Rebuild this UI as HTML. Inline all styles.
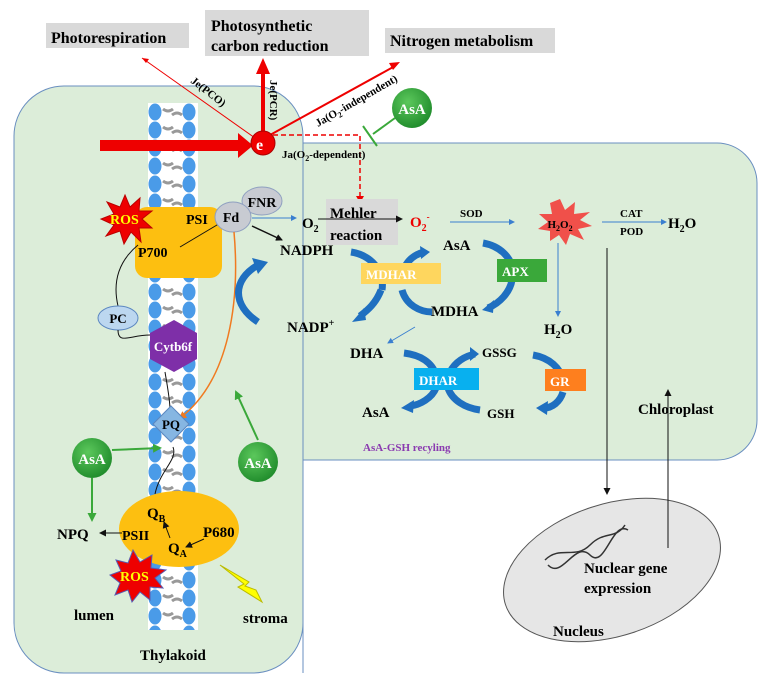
<!DOCTYPE html>
<html><head><meta charset="utf-8"><style>
html,body{margin:0;padding:0;background:#fff;}
svg{display:block;font-family:"Liberation Serif",serif;font-weight:bold;}
</style></head><body>
<svg width="767" height="683" viewBox="0 0 767 683" xmlns="http://www.w3.org/2000/svg">
<defs>
<marker id="ar" markerWidth="8" markerHeight="8" refX="6" refY="4" orient="auto" markerUnits="userSpaceOnUse"><path d="M0,0 L8,4 L0,8z" fill="#e00"/></marker>
<marker id="ab" markerWidth="6" markerHeight="6" refX="5" refY="3" orient="auto" markerUnits="userSpaceOnUse"><path d="M0,0 L6,3 L0,6z" fill="#3a7fd0"/></marker>
<marker id="ak" markerWidth="7" markerHeight="7" refX="6" refY="3.5" orient="auto" markerUnits="userSpaceOnUse"><path d="M0,0 L7,3.5 L0,7z" fill="#111"/></marker>
<marker id="ag" markerWidth="9" markerHeight="9" refX="7" refY="4.5" orient="auto" markerUnits="userSpaceOnUse"><path d="M0,0 L9,4.5 L0,9z" fill="#3aa83a"/></marker>
<marker id="ao" markerWidth="8" markerHeight="8" refX="6" refY="4" orient="auto" markerUnits="userSpaceOnUse"><path d="M0,0 L8,4 L0,8z" fill="#f07a20"/></marker>
<pattern id="mem" x="148" y="103" width="50" height="18" patternUnits="userSpaceOnUse">
<rect width="50" height="18" fill="#fff"/>
<ellipse cx="7" cy="9" rx="6.5" ry="8.5" fill="#4a9be8"/>
<ellipse cx="41" cy="9" rx="6.5" ry="8.5" fill="#4a9be8"/>
<path d="M15,6 q5,4 10,0 M24,12 q5,-4 10,0" stroke="#999" stroke-width="3" fill="none"/>
</pattern>
<radialGradient id="gg" cx="0.4" cy="0.35" r="0.7"><stop offset="0" stop-color="#5cc85c"/><stop offset="1" stop-color="#1e8a2a"/></radialGradient>
</defs>

<!-- containers -->
<path d="M64,86 H253 A50,50 0 0 1 303,136 V623 A50,50 0 0 1 253,673 H64 A50,50 0 0 1 14,623 V136 A50,50 0 0 1 64,86 Z" fill="#dcedd9" stroke="#6a8fc0" stroke-width="1"/>
<path d="M303,143 H717 A40,40 0 0 1 757,183 V420 A40,40 0 0 1 717,460 H303 Z" fill="#dcedd9" stroke="#6a8fc0" stroke-width="1"/>
<line x1="303" y1="143" x2="303" y2="673" stroke="#6a8fc0" stroke-width="1"/>

<!-- membrane -->
<rect x="148" y="103" width="50" height="527" fill="url(#mem)"/>

<!-- top labels -->
<rect x="46" y="23" width="143" height="25" fill="#d9d9d9"/>
<text x="51" y="43" font-size="16">Photorespiration</text>
<rect x="205" y="10" width="164" height="46" fill="#d9d9d9"/>
<text x="211" y="31" font-size="16">Photosynthetic</text>
<text x="211" y="51" font-size="16">carbon reduction</text>
<rect x="385" y="28" width="170" height="25" fill="#d9d9d9"/>
<text x="390" y="46" font-size="16">Nitrogen metabolism</text>

<!-- red arrows -->
<line x1="255" y1="138" x2="142" y2="58" stroke="#e00" stroke-width="1"/>
<path d="M142,58 l7,1 l-3,4z" fill="#e00"/>
<line x1="263" y1="132" x2="263" y2="72" stroke="#e00" stroke-width="4"/>
<path d="M256,74 L263,58 L270,74z" fill="#e00"/>
<line x1="270" y1="135" x2="395" y2="66" stroke="#e00" stroke-width="2"/>
<path d="M400,62 l-11,1 l4,7z" fill="#e00"/>
<rect x="100" y="140" width="140" height="11" fill="#e00"/>
<path d="M238,133 L253,145.5 L238,158z" fill="#e00"/>
<circle cx="263" cy="143" r="12" fill="#e00" stroke="#a00"/>
<text x="256" y="150" font-size="16" fill="#fff">e</text>
<path d="M273,135 H360 V198" stroke="#e00" stroke-width="1.5" stroke-dasharray="5,3" fill="none"/>
<path d="M356,196 L360,203 L364,196z" fill="#e00"/>
<text font-size="11" transform="translate(190,82) rotate(38)">Je(PCO)</text>
<text font-size="11" transform="translate(270,80) rotate(90)">Je(PCR)</text>
<text font-size="11" transform="translate(318,127) rotate(-30)">Ja(O<tspan font-size="8" dy="3">2</tspan><tspan dy="-3">-independent)</tspan></text>
<text x="282" y="158" font-size="11">Ja(O<tspan font-size="8" dy="3">2</tspan><tspan dy="-3">-dependent)</tspan></text>

<!-- AsA inhibitor -->
<line x1="395" y1="118" x2="373" y2="134" stroke="#3aa83a" stroke-width="2"/>
<line x1="363" y1="126" x2="377" y2="146" stroke="#3aa83a" stroke-width="2"/>
<circle cx="412" cy="108" r="20" fill="url(#gg)"/>
<text x="412" y="114" font-size="15" fill="#fff" text-anchor="middle">AsA</text>

<!-- PSI -->
<rect x="135" y="207" width="87" height="71" rx="12" fill="#fdbf10"/>
<polygon points="125,195 130,207 140,198 139,211 152,211 142,219 152,228 139,228 141,242 131,232 124,244 120,231 106,236 114,225 101,219 114,214 107,202 120,207" fill="#e00" stroke="#b00"/>
<text x="110" y="224" font-size="14" fill="#ff0">ROS</text>
<text x="186" y="224" font-size="14">PSI</text>
<text x="138" y="257" font-size="14">P700</text>
<line x1="180" y1="247" x2="222" y2="222" stroke="#111"/>
<ellipse cx="262" cy="201" rx="20" ry="14" fill="#c8cbd2" stroke="#8fa0c0"/>
<text x="262" y="207" font-size="14" text-anchor="middle">FNR</text>
<ellipse cx="233" cy="217" rx="18" ry="15" fill="#c8cbd2" stroke="#8fa0c0"/>
<text x="231" y="222" font-size="14" text-anchor="middle">Fd</text>
<line x1="252" y1="218" x2="296" y2="218" stroke="#3a7fd0" marker-end="url(#ab)"/>
<line x1="252" y1="226" x2="282" y2="240" stroke="#111" stroke-width="1.5" marker-end="url(#ak)"/>
<path d="M234,232 C240,300 230,380 180,418" stroke="#f07a20" stroke-width="1.5" fill="none" marker-end="url(#ao)"/>

<!-- Mehler -->
<text x="302" y="228" font-size="15">O<tspan font-size="10" dy="4">2</tspan></text>
<rect x="326" y="199" width="72" height="46" fill="#d9d9d9"/>
<text x="330" y="218" font-size="15">Mehler</text>
<text x="330" y="240" font-size="15">reaction</text>
<line x1="318" y1="219" x2="402" y2="219" stroke="#111" marker-end="url(#ak)"/>
<text x="410" y="227" font-size="15" fill="#e00">O<tspan font-size="10" dy="4">2</tspan><tspan font-size="9" dy="-11">-</tspan></text>
<text x="460" y="217" font-size="11">SOD</text>
<line x1="450" y1="222" x2="514" y2="222" stroke="#3a7fd0" marker-end="url(#ab)"/>
<polygon points="560,199 565,210 575,202 574,214 590,212 580,220 592,226 578,229 584,240 570,234 566,245 559,235 550,241 550,231 538,229 548,222 539,214 552,214 550,203" fill="#f0504a"/>
<text x="560" y="228" font-size="11" text-anchor="middle">H<tspan font-size="8" dy="3">2</tspan><tspan dy="-3">O</tspan><tspan font-size="8" dy="3">2</tspan></text>
<text x="620" y="217" font-size="11">CAT</text>
<text x="620" y="235" font-size="11">POD</text>
<line x1="602" y1="222" x2="666" y2="222" stroke="#3a7fd0" marker-end="url(#ab)"/>
<text x="668" y="228" font-size="15">H<tspan font-size="10" dy="4">2</tspan><tspan dy="-4">O</tspan></text>
<line x1="558" y1="243" x2="558" y2="316" stroke="#3a7fd0" marker-end="url(#ab)"/>
<text x="544" y="334" font-size="15">H<tspan font-size="10" dy="4">2</tspan><tspan dy="-4">O</tspan></text>

<!-- NADPH cycle -->
<text x="280" y="255" font-size="15">NADPH</text>
<text x="287" y="332" font-size="15">NADP<tspan font-size="10" dy="-6">+</tspan></text>
<path d="M258,265 C232,280 232,305 258,322" stroke="#1f6fc0" stroke-width="7" fill="none"/>
<path d="M252,258 L268,262 L258,274z" fill="#1f6fc0"/>

<!-- AsA-GSH -->
<g stroke="#1f6fc0" stroke-width="7" fill="none">
<path d="M351,252 C370,255 385,270 382,290"/>
<path d="M381,290 C376,303 368,310 360,316"/>
<path d="M402,290 C406,305 420,312 432,312"/>
<path d="M402,275 C405,262 413,255 424,252"/>
<path d="M483,243 C500,246 512,258 512,270"/>
<path d="M512,280 C510,292 500,303 488,308"/>
<path d="M404,353 C420,355 432,362 436,375"/>
<path d="M436,388 C432,398 420,405 410,406"/>
<path d="M448,388 C452,400 465,408 480,410"/>
<path d="M450,372 C455,362 465,356 475,354"/>
<path d="M533,355 C550,358 560,368 563,380"/>
<path d="M563,392 C560,402 552,408 544,408"/>
</g>
<g fill="#1f6fc0">
<path d="M352,322 L364,308 L366,320z"/>
<path d="M430,252 L420,246 L421,259z"/>
<path d="M482,310 L494,300 L493,313z"/>
<path d="M401,408 L414,400 L413,413z"/>
<path d="M479,354 L470,347 L470,361z"/>
<path d="M536,408 L548,401 L547,415z"/>
</g>
<rect x="361" y="263" width="80" height="21" fill="#fed65e"/>
<text x="366" y="279" font-size="13" fill="#fff">MDHAR</text>
<text x="443" y="250" font-size="15">AsA</text>
<rect x="497" y="259" width="50" height="23" fill="#3aa83a"/>
<text x="502" y="276" font-size="13" fill="#fff">APX</text>
<text x="431" y="316" font-size="15">MDHA</text>
<line x1="415" y1="327" x2="388" y2="343" stroke="#3a7fd0" marker-end="url(#ab)"/>
<text x="350" y="358" font-size="15">DHA</text>
<text x="482" y="357" font-size="13">GSSG</text>
<rect x="414" y="368" width="65" height="22" fill="#08b0ef"/>
<text x="419" y="385" font-size="13" fill="#fff">DHAR</text>
<rect x="545" y="369" width="41" height="22" fill="#fe7f1e"/>
<text x="550" y="386" font-size="13" fill="#fff">GR</text>
<text x="362" y="417" font-size="15">AsA</text>
<text x="487" y="418" font-size="13">GSH</text>
<text x="363" y="451" font-size="11" fill="#8a3ab0">AsA-GSH recyling</text>
<text x="638" y="414" font-size="15">Chloroplast</text>

<!-- PC, Cytb6f, PQ -->
<path d="M138,245 C120,260 112,280 118,306" stroke="#111" fill="none"/>
<ellipse cx="118" cy="318" rx="20" ry="12" fill="#bcd7f0" stroke="#5a86c0"/>
<text x="118" y="323" font-size="13" text-anchor="middle">PC</text>
<path d="M150,335 C130,335 118,345 118,330" stroke="#111" fill="none"/>
<polygon points="150,333 174,320 197,333 197,359 174,372 150,359" fill="#7e2fa8"/>
<text x="173" y="351" font-size="13" fill="#fff" text-anchor="middle">Cytb6f</text>
<path d="M165,372 C168,390 170,400 170,410" stroke="#111" fill="none"/>
<polygon points="171,406 189,424 171,442 153,424" fill="#86b6e2" stroke="#5a86c0"/>
<text x="171" y="429" font-size="13" text-anchor="middle">PQ</text>
<path d="M173,447 C178,460 160,470 155,494" stroke="#111" fill="none"/>
<circle cx="258" cy="462" r="20" fill="url(#gg)"/>
<text x="258" y="468" font-size="15" fill="#fff" text-anchor="middle">AsA</text>
<line x1="258" y1="440" x2="236" y2="392" stroke="#3aa83a" stroke-width="2" marker-end="url(#ag)"/>
<circle cx="92" cy="458" r="20" fill="url(#gg)"/>
<text x="92" y="464" font-size="15" fill="#fff" text-anchor="middle">AsA</text>
<line x1="112" y1="450" x2="160" y2="448" stroke="#3aa83a" stroke-width="2" marker-end="url(#ag)"/>
<line x1="92" y1="478" x2="92" y2="520" stroke="#3aa83a" stroke-width="2" marker-end="url(#ag)"/>

<!-- PSII -->
<ellipse cx="179" cy="529" rx="60" ry="38" fill="#fdbf10"/>
<text x="147" y="518" font-size="15">Q<tspan font-size="10" dy="4">B</tspan></text>
<text x="122" y="540" font-size="14">PSII</text>
<text x="203" y="537" font-size="15">P680</text>
<text x="168" y="553" font-size="15">Q<tspan font-size="10" dy="4">A</tspan></text>
<line x1="122" y1="533" x2="100" y2="533" stroke="#111" marker-end="url(#ak)"/>
<text x="57" y="539" font-size="15">NPQ</text>
<line x1="170" y1="538" x2="164" y2="522" stroke="#111" marker-end="url(#ak)"/>
<line x1="204" y1="539" x2="186" y2="547" stroke="#111" marker-end="url(#ak)"/>
<polygon points="133,550 140,562 152,555 151,568 166,570 155,578 163,588 150,587 150,600 140,592 132,602 128,590 115,595 120,583 110,575 121,571 116,560 128,563" fill="#e00" stroke="#5a5ab0"/>
<text x="120" y="581" font-size="14" fill="#ff0">ROS</text>
<polygon points="220,565 244,584 238,587 262,602 256,590 245,586 249,582" fill="#ff0" stroke="#bb0"/>
<text x="74" y="620" font-size="15">lumen</text>
<text x="243" y="623" font-size="15">stroma</text>
<text x="140" y="660" font-size="15">Thylakoid</text>

<!-- nucleus -->
<ellipse cx="612" cy="570" rx="112" ry="66" transform="rotate(-18 612 570)" fill="#e6e6e6" stroke="#555"/>
<g stroke="#333" stroke-width="1.5" fill="none">
<path d="M545,560 C560,545 575,560 590,545 C605,530 615,540 625,525"/>
<path d="M548,565 C562,580 575,540 590,555 C605,570 612,520 628,530"/>
</g>
<text x="584" y="573" font-size="15">Nuclear gene</text>
<text x="584" y="593" font-size="15">expression</text>
<text x="553" y="636" font-size="15">Nucleus</text>
<line x1="607" y1="248" x2="607" y2="494" stroke="#111" marker-end="url(#ak)"/>
<line x1="668" y1="548" x2="668" y2="390" stroke="#111" marker-end="url(#ak)"/>
</svg>
</body></html>
